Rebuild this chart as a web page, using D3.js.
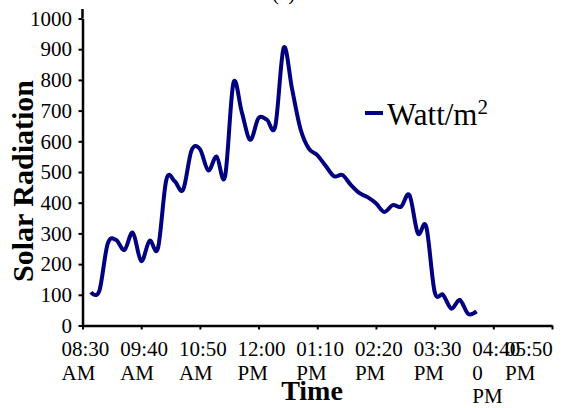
<!DOCTYPE html>
<html><head><meta charset="utf-8">
<script src="https://cdn.jsdelivr.net/npm/d3@7"></script>
<style>body{margin:0;background:#fff}svg{display:block}</style>
</head><body>
<svg id="c" width="563" height="408"></svg>
<script>
// ---- data ----
const times = ["08:40","08:50","09:00","09:10","09:20","09:30","09:40","09:50","10:00","10:10",
  "10:20","10:30","10:40","10:50","11:00","11:10","11:20","11:30","11:40","11:50",
  "12:00","12:10","12:20","12:30","12:40","12:50","13:00","13:10","13:20","13:30",
  "13:40","13:50","14:00","14:10","14:20","14:30","14:40","14:50","15:00","15:10",
  "15:20","15:30","15:40","15:50","16:00","16:10","16:20"];
const watt = [108,112,266,279,246,302,210,276,252,475,
  470,442,570,575,505,550,485,790,695,605,
  676,670,650,905,770,640,576,555,520,486,
  490,458,432,418,398,370,392,387,425,300,
  322,110,100,55,83,38,46];
const xTickTimes = ["08:30","09:40","10:50","12:00","13:10","14:20","15:30","16:40","17:50"];
const xTickLabels = [["08:30","AM"],["09:40","AM"],["10:50","AM"],["12:00","PM"],["01:10","PM"],
  ["02:20","PM"],["03:30","PM"],["04:40","0","PM"],["05:50","PM"]];
const yTicks = [0,100,200,300,400,500,600,700,800,900,1000];
const seriesName = "Watt/m";
const seriesSup = "2";
const xTitle = "Time", yTitle = "Solar Radiation", chartTitle = "(c) Kuantan";

// ---- drawing ----
const parse = d3.timeParse("%H:%M");
const svg = d3.select("#c");
const font = "Liberation Serif";
const x = d3.scaleTime().domain([parse("08:30"), parse("17:50")]).range([82.5, 552]);
const y = d3.scaleLinear().domain([0, 1000]).range([325.5, 18.5]);

svg.append("text").attr("x", 272).attr("y", 0).attr("font-family", font).attr("font-size", 21)
  .attr("fill", "#000").text(chartTitle);

// y axis
const ya = svg.append("g").attr("transform", "translate(82.5,0)")
  .call(d3.axisLeft(y).tickValues(yTicks).tickSize(4).tickSizeOuter(0).tickPadding(6.5).tickFormat(d3.format("d")));
ya.select(".domain").attr("stroke", "#000").attr("stroke-width", 2.5);
ya.append("line").attr("x1", 0).attr("x2", 0).attr("y1", 9).attr("y2", y(1000))
  .attr("stroke", "#000").attr("stroke-width", 2.5);
ya.selectAll(".tick line").attr("stroke", "#000").attr("stroke-width", 2);
ya.selectAll(".tick text").attr("font-family", font).attr("font-size", 21).attr("fill", "#000");

// x axis
const xa = svg.append("g").attr("transform", "translate(0,325.5)")
  .call(d3.axisBottom(x).tickValues(xTickTimes.map(parse)).tickSize(4).tickSizeOuter(0).tickFormat(""));
xa.select(".domain").attr("stroke", "#000").attr("stroke-width", 2.5);
xa.selectAll(".tick line").attr("stroke", "#000").attr("stroke-width", 2);

const lab = svg.append("g").attr("font-family", font).attr("font-size", 21).attr("fill", "#000");
xTickLabels.forEach((lines, i) => {
  const tx = x(parse(xTickTimes[i]));
  const last = i === xTickLabels.length - 1;
  const lx = last ? tx - 47 : tx - 21;
  const t = lab.append("text").attr("x", lx).attr("y", 356);
  lines.forEach((s, j) => t.append("tspan").attr("x", lx).attr("dy", j ? 23.5 : 0).text(s));
});

// line
const line = d3.line().x((d, i) => x(parse(times[i]))).y(d => y(d)).curve(d3.curveCatmullRom.alpha(0));
svg.append("path").datum(watt).attr("d", line).attr("fill", "none")
  .attr("stroke", "#000080").attr("stroke-width", 4).attr("stroke-linejoin", "round");

// titles
svg.append("text").attr("x", 312).attr("y", 400).attr("text-anchor", "middle")
  .attr("font-family", font).attr("font-weight", "bold").attr("font-size", 28).attr("fill", "#000").text(xTitle);
svg.append("text").attr("transform", "translate(33,181) rotate(-90)").attr("text-anchor", "middle")
  .attr("font-family", font).attr("font-weight", "bold").attr("font-size", 30).attr("fill", "#000").text(yTitle);

// legend
svg.append("line").attr("x1", 365).attr("x2", 383).attr("y1", 113).attr("y2", 113)
  .attr("stroke", "#000080").attr("stroke-width", 4);
const lt = svg.append("text").attr("x", 387).attr("y", 125).attr("font-family", font)
  .attr("font-size", 31).attr("fill", "#000").text(seriesName);
lt.append("tspan").attr("font-size", 21).attr("dy", -11).text(seriesSup);
</script>
</body></html>
